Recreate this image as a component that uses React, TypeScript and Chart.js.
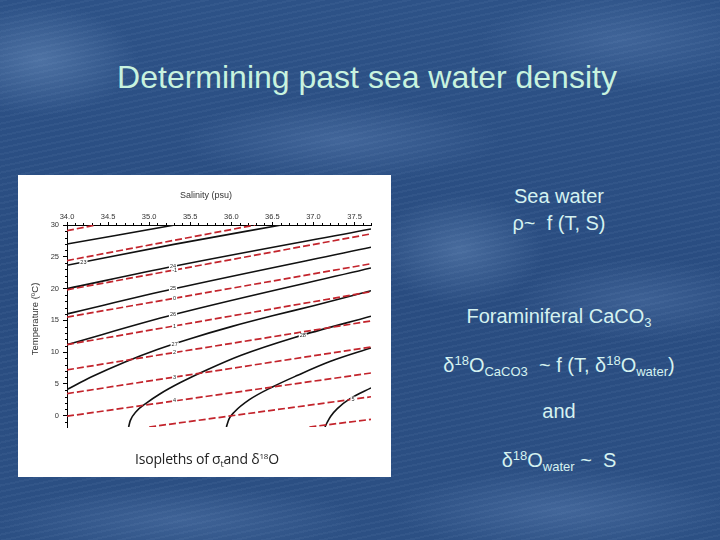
import React, { useEffect, useRef } from 'react';
import { Chart, registerables } from 'chart.js';

Chart.register(...registerables);

// ---- axis ticks ----
const salinityTicks = [34.0, 34.5, 35.0, 35.5, 36.0, 36.5, 37.0, 37.5];
const temperatureTicks = [0, 5, 10, 15, 20, 25, 30];

// ---- sigma-t isopleths (salinity psu, temperature °C) ----
const sigma22 = [[34.0, 27.0], [35.31, 30.0]];
const sigma23 = [[34.0, 23.66], [35.3, 26.95], [36.61, 30.0]];
const sigma24 = [[34.0, 19.98], [35.3, 23.5], [37.7, 29.37]];
const sigma25 = [[34.0, 16.0], [35.3, 19.95], [37.7, 26.49]];
const sigma26 = [[34.0, 11.17], [35.3, 15.9], [37.7, 23.23]];
const sigma27 = [[34.0, 4.1], [34.3, 6.1], [34.7, 8.4], [35.1, 10.4], [35.5, 12.1], [36.0, 14.0], [36.5, 15.7], [37.0, 17.3], [37.7, 19.66]];
const sigma28 = [[34.75, -1.8], [34.77, -0.8], [34.84, 0.6], [34.97, 2.0], [35.13, 3.4], [35.38, 5.2], [35.72, 7.3], [36.12, 9.5], [36.77, 12.3], [37.7, 15.64]];
const sigma29 = [[35.94, -1.8], [35.97, -0.6], [36.04, 0.6], [36.22, 2.5], [36.5, 4.5], [36.8, 6.3], [37.2, 8.5], [37.7, 10.65]];
const sigma30 = [[37.14, -1.8], [37.17, -1.0], [37.21, -0.1], [37.29, 1.1], [37.45, 2.7], [37.7, 4.36]];

// ---- delta 18O isopleths ----
const d18Om3 = [[34.0, 29.1], [34.35, 30.0]];
const d18Om2 = [[34.0, 24.4], [36.29, 30.0]];
const d18Om1 = [[34.0, 19.8], [37.7, 28.6]];
const d18O0 = [[34.0, 15.5], [37.7, 23.9]];
const d18O1 = [[34.0, 11.17], [37.7, 19.5]];
const d18O2 = [[34.0, 7.2], [37.7, 14.9]];
const d18O3 = [[34.0, 3.46], [37.7, 10.8]];
const d18O4 = [[34.0, -0.1], [37.7, 6.7]];
const d18O5 = [[35.0, -1.8], [37.7, 2.96]];
const d18O6 = [[36.95, -1.8], [37.7, -0.6]];

const sigmaLines = [sigma22, sigma23, sigma24, sigma25, sigma26, sigma27, sigma28, sigma29, sigma30];
const d18OLines = [d18Om3, d18Om2, d18Om1, d18O0, d18O1, d18O2, d18O3, d18O4, d18O5, d18O6];

// ---- contour labels ----
const sigmaLabelText = ['23', '24', '25', '26', '27', '28'];
const sigmaLabelS = [34.2, 35.29, 35.29, 35.29, 35.31, 36.87];
const sigmaLabelT = [24.1, 23.5, 19.95, 15.9, 11.2, 12.55];
const d18OLabelText = ['-1', '0', '1', '2', '3', '4', '5'];
const d18OLabelS = [35.31, 35.31, 35.31, 35.31, 35.31, 35.31, 37.48];
const d18OLabelT = [22.9, 18.5, 14.1, 9.9, 6.07, 2.31, 2.59];

const CHART_FONT = '"Liberation Sans", Arial, sans-serif';

const decorPlugin = {
  id: 'decor',
  afterDraw(chart: any) {
    const { ctx, chartArea } = chart;
    const xs = chart.scales.x;
    const ys = chart.scales.y;
    ctx.save();
    // minor ticks
    ctx.strokeStyle = '#000';
    ctx.lineWidth = 1;
    ctx.beginPath();
    for (let i = 1; i * 0.1 + 34 <= xs.max + 1e-9; i++) {
      if (i % 5 === 0) continue;
      const px = Math.round(xs.getPixelForValue(34 + i * 0.1)) + 0.5;
      ctx.moveTo(px, chartArea.top);
      ctx.lineTo(px, chartArea.top - 2);
    }
    for (let t = Math.ceil(ys.min); t <= ys.max; t++) {
      if (t % 5 === 0) continue;
      const py = Math.round(ys.getPixelForValue(t)) + 0.5;
      ctx.moveTo(chartArea.left, py);
      ctx.lineTo(chartArea.left - 2, py);
    }
    ctx.stroke();

    // contour labels
    ctx.font = `5.5px ${CHART_FONT}`;
    ctx.textAlign = 'center';
    ctx.textBaseline = 'middle';
    const drawLabel = (text: string, s: number, t: number) => {
      const px = xs.getPixelForValue(s);
      const py = ys.getPixelForValue(t);
      const w = ctx.measureText(text).width + 2;
      ctx.fillStyle = '#fff';
      ctx.fillRect(px - w / 2, py - 2.5, w, 5);
      ctx.fillStyle = '#222';
      ctx.fillText(text, px, py);
    };
    sigmaLabelText.forEach((txt, i) => drawLabel(txt, sigmaLabelS[i], sigmaLabelT[i]));
    d18OLabelText.forEach((txt, i) => drawLabel(txt, d18OLabelS[i], d18OLabelT[i]));

    // axis titles
    ctx.fillStyle = '#333';
    ctx.font = `9px ${CHART_FONT}`;
    ctx.fillText('Salinity (psu)', 188, 21);
    ctx.translate(17, 144);
    ctx.rotate(-Math.PI / 2);
    ctx.font = `9.5px ${CHART_FONT}`;
    ctx.fillText('Temperature (ºC)', 0, 0);
    ctx.restore();
  },
};

function IsoplethChart() {
  const ref = useRef<HTMLCanvasElement | null>(null);
  useEffect(() => {
    if (!ref.current) return;
    const datasets: any[] = [];
    d18OLines.forEach((pts) =>
      datasets.push({
        data: pts.map(([x, y]) => ({ x, y })),
        borderColor: '#c3242c',
        borderWidth: 1.7,
        borderDash: [7, 3],
        pointRadius: 0,
        fill: false,
        tension: 0,
      })
    );
    sigmaLines.forEach((pts) =>
      datasets.push({
        data: pts.map(([x, y]) => ({ x, y })),
        borderColor: '#111',
        borderWidth: 1.6,
        pointRadius: 0,
        fill: false,
        cubicInterpolationMode: 'monotone',
      })
    );
    const chart = new Chart(ref.current, {
      type: 'line',
      data: { datasets },
      options: {
        animation: false,
        responsive: false,
        maintainAspectRatio: false,
        layout: { padding: { left: 0, top: 0, right: 20, bottom: 50 } },
        plugins: { legend: { display: false }, tooltip: { enabled: false } },
        scales: {
          x: {
            type: 'linear',
            position: 'top',
            min: 34,
            max: 37.7,
            afterBuildTicks: (s: any) => {
              s.ticks = salinityTicks.map((v) => ({ value: v }));
            },
            afterFit: (s: any) => {
              s.height = 50;
            },
            ticks: {
              callback: (v: any) => Number(v).toFixed(1),
              font: { family: CHART_FONT, size: 7.5 },
              color: '#333',
              padding: 1,
              maxRotation: 0,
              autoSkip: false,
            },
            grid: { drawOnChartArea: false, tickLength: 3, color: '#000', tickColor: '#000' },
            border: { color: '#000', width: 1 },
          },
          y: {
            type: 'linear',
            min: -1.8,
            max: 30,
            afterBuildTicks: (s: any) => {
              s.ticks = temperatureTicks.map((v) => ({ value: v }));
            },
            afterFit: (s: any) => {
              s.width = 49;
            },
            ticks: {
              font: { family: CHART_FONT, size: 7.5 },
              color: '#333',
              padding: 4,
              autoSkip: false,
            },
            grid: { drawOnChartArea: false, tickLength: 4, color: '#000', tickColor: '#000' },
            border: { color: '#000', width: 1 },
          },
        },
      },
      plugins: [decorPlugin],
    });
    return () => chart.destroy();
  }, []);
  return <canvas ref={ref} width={373} height={302} style={{ width: 373, height: 302, display: 'block' }} />;
}

const sub = { fontSize: 13, verticalAlign: '-4px', lineHeight: 0 } as React.CSSProperties;
const sup = { fontSize: 13, verticalAlign: '7px', lineHeight: 0 } as React.CSSProperties;

export default function App() {
  const line = (top: number): React.CSSProperties => ({
    position: 'absolute',
    left: 400,
    width: 318,
    top,
    textAlign: 'center',
    color: '#d5f2f0',
    fontFamily: '"Liberation Sans", Arial, sans-serif',
    fontSize: 20,
    lineHeight: '20px',
    whiteSpace: 'pre',
  });
  return (
    <div
      style={{
        position: 'fixed',
        left: 0,
        top: 0,
        width: 720,
        height: 540,
        overflow: 'hidden',
        background: [
          'repeating-linear-gradient(168deg, rgba(160,190,225,0.06) 0px, rgba(160,190,225,0.06) 2px, rgba(0,0,0,0) 2px, rgba(0,0,0,0) 6px)',
          'radial-gradient(ellipse 140px 80px at 40px 60px, rgba(120,155,200,0.45), rgba(0,0,0,0) 70%)',
          'radial-gradient(ellipse 230px 60px at 340px 140px, rgba(110,145,195,0.35), rgba(0,0,0,0) 70%)',
          'radial-gradient(ellipse 200px 70px at 620px 40px, rgba(110,145,195,0.3), rgba(0,0,0,0) 70%)',
          'radial-gradient(ellipse 120px 80px at 460px 250px, rgba(120,155,200,0.4), rgba(0,0,0,0) 70%)',
          'radial-gradient(ellipse 180px 60px at 640px 300px, rgba(110,145,195,0.3), rgba(0,0,0,0) 70%)',
          'radial-gradient(ellipse 240px 60px at 560px 510px, rgba(110,145,195,0.35), rgba(0,0,0,0) 70%)',
          'radial-gradient(ellipse 260px 50px at 180px 520px, rgba(110,145,195,0.3), rgba(0,0,0,0) 70%)',
          'linear-gradient(180deg, #2d5287 0%, #294c80 55%, #2c5084 100%)',
        ].join(','),
      }}
    >
      <div
        style={{
          position: 'absolute',
          left: 0,
          width: 734,
          top: 61,
          textAlign: 'center',
          color: '#c8f3df',
          fontFamily: '"Liberation Sans", Arial, sans-serif',
          fontSize: 32,
          lineHeight: '32px',
          whiteSpace: 'pre',
        }}
      >
        Determining past sea water density
      </div>

      <div style={{ position: 'absolute', left: 18, top: 175, width: 373, height: 302, background: '#fff' }}>
        <IsoplethChart />
        <div
          style={{
            position: 'absolute',
            left: 0,
            width: 378,
            top: 277,
            textAlign: 'center',
            color: '#222',
            fontFamily: '"Open Sans", "Liberation Sans", sans-serif',
            fontSize: 14,
            letterSpacing: '-0.2px',
            lineHeight: '14px',
            whiteSpace: 'pre',
          }}
        >
          Isopleths of σ<sub style={{ fontSize: 9, verticalAlign: '-3px', lineHeight: 0 }}>t</sub>and δ
          <sup style={{ fontSize: 8, verticalAlign: '5px', lineHeight: 0 }}>18</sup>O
        </div>
      </div>

      <div style={line(186)}>Sea water</div>
      <div style={line(212.6)}>{'ρ~  f (T, S)'}</div>
      <div style={line(306.4)}>
        Foraminiferal CaCO<span style={sub}>3</span>
      </div>
      <div style={line(354.8)}>
        δ<span style={sup}>18</span>O<span style={sub}>CaCO3</span>
        {'  ~ f (T, δ'}
        <span style={sup}>18</span>O<span style={sub}>water</span>)
      </div>
      <div style={line(401.4)}>and</div>
      <div style={line(449.8)}>
        δ<span style={sup}>18</span>O<span style={sub}>water</span>
        {' ~  S'}
      </div>
    </div>
  );
}
